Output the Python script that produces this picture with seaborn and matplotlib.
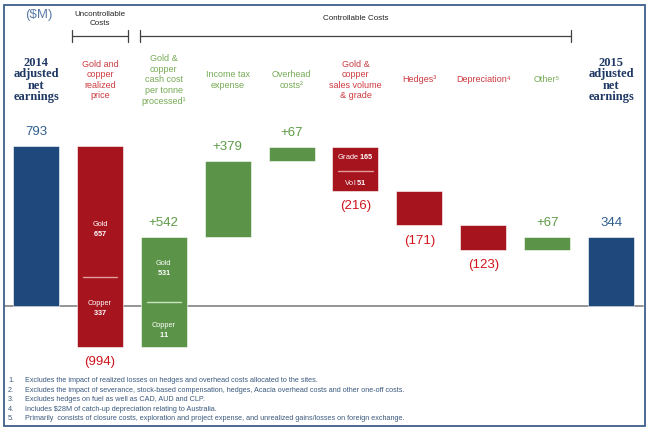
import numpy as np
import pandas as pd
import seaborn as sns
import matplotlib.pyplot as plt
from matplotlib.patches import Rectangle

# Daten (in $M)
steps = ['2014', 'price', 'cash_cost', 'tax', 'overhead', 'volume',
         'hedges', 'depreciation', 'other', '2015']
header_labels = ['2014\nadjusted\nnet\nearnings',
                 'Gold and\ncopper\nrealized\nprice',
                 'Gold &\ncopper\ncash cost\nper tonne\nprocessed¹',
                 'Income tax\nexpense',
                 'Overhead\ncosts²',
                 'Gold &\ncopper\nsales volume\n& grade',
                 'Hedges³',
                 'Depreciation⁴',
                 'Other⁵',
                 '2015\nadjusted\nnet\nearnings']
values = [793, -994, 542, 379, 67, -216, -171, -123, 67, 344]
is_total = [True, False, False, False, False, False, False, False, False, True]
value_labels = ['793', '(994)', '+542', '+379', '+67', '(216)', '(171)',
                '(123)', '+67', '344']

# Aufteilung innerhalb einzelner Balken: (oben, Wert, unten, Wert)
split_labels = {1: ('Gold', '657', 'Copper', '337'),
                2: ('Gold', '531', 'Copper', '11'),
                5: ('Grade', '165', 'Vol', '51')}

footnotes = [
    'Excludes the impact of realized losses on hedges and overhead costs allocated to the sites.',
    'Excludes the impact of severance, stock-based compensation, hedges, Acacia overhead costs and other one-off costs.',
    'Excludes hedges on fuel as well as CAD, AUD and CLP.',
    'Includes $28M of catch-up depreciation relating to Australia.',
    'Primarily  consists of closure costs, exploration and project expense, and unrealized gains/losses on foreign exchange.',
]

# Farben
BLUE = '#1F497D'
RED = '#A6141E'
GREEN = '#5B9448'
BLUE_TXT = '#2F5E8E'
RED_TXT = '#D0141C'
GREEN_TXT = '#5D9A45'
RED_HDR = '#CC3A40'
GREEN_HDR = '#76AA55'

# Wasserfall: Basis und Höhe berechnen
bottoms, heights, running = [], [], 0
for v, tot in zip(values, is_total):
    if tot:
        lo, hi = 0, v
        running = v
    else:
        lo, hi = sorted([running, running + v])
        running += v
    bottoms.append(lo)
    heights.append(hi - lo)

bar_colors = [BLUE if t else (GREEN if v > 0 else RED) for v, t in zip(values, is_total)]
txt_colors = [BLUE_TXT if t else (GREEN_TXT if v > 0 else RED_TXT) for v, t in zip(values, is_total)]

df = pd.DataFrame({'step': steps, 'height': heights, 'bottom': bottoms})

sns.set_style('white')
plt.rcParams['font.family'] = ['Liberation Sans', 'DejaVu Sans']
plt.rcParams['mathtext.fontset'] = 'custom'
plt.rcParams['mathtext.rm'] = 'Liberation Sans'
plt.rcParams['mathtext.bf'] = 'Liberation Sans:bold'

fig = plt.figure(figsize=(6.5, 4.34), dpi=100)
ax = fig.add_axes([0, 0, 1, 1])

sns.barplot(data=df, x='step', y='height', hue='step', palette=bar_colors,
            width=0.72, saturation=1, legend=False, ax=ax,
            edgecolor='#FFFFFF', linewidth=0.4)
for patch, b in zip(ax.patches, bottoms):
    patch.set_y(b)

ax.set_xlim(-0.5634, 9.609)
ax.set_ylim(-634.3, 1516.4)
ax.axis('off')

# Nulllinie
ax.plot([-0.48, 9.5], [0, 0], color='#8C8C8C', lw=1.3, zorder=0)

# Wertbeschriftungen
for i, (b, h, v, lab, c) in enumerate(zip(bottoms, heights, values, value_labels, txt_colors)):
    if v >= 0:
        ax.annotate(lab, (i, b + h), xytext=(0, 10), textcoords='offset points',
                    ha='center', va='center', fontsize=9.5, color=c)
    else:
        ax.annotate(lab, (i, b), xytext=(0, -11), textcoords='offset points',
                    ha='center', va='center', fontsize=9.5, color=c)

# Aufteilung innerhalb der Balken (Anteile von unten)
split_layout = {1: (0.584, 0.347, 0.19), 2: (0.714, 0.41, 0.147), 5: (0.775, 0.454, 0.18)}
for i, (n1, v1, n2, v2) in split_labels.items():
    f_top, f_div, f_bot = split_layout[i]
    b, h = bottoms[i], heights[i]
    line_c = '#E39B9B' if values[i] < 0 else '#CBE2BF'
    ax.plot([i - 0.27, i + 0.27], [b + f_div * h] * 2, color=line_c, lw=1)
    if i == 5:
        t1 = n1 + r' $\mathbf{' + v1 + '}$'
        t2 = n2 + r' $\mathbf{' + v2 + '}$'
    else:
        t1 = n1 + '\n' + r'$\mathbf{' + v1 + '}$'
        t2 = n2 + '\n' + r'$\mathbf{' + v2 + '}$'
    for t, f in ((t1, f_top), (t2, f_bot)):
        ax.text(i, b + f * h, t, ha='center', va='center', fontsize=5.3,
                color='white', linespacing=1.1)

# Kopfzeilen
xt = ax.get_xaxis_transform()
hdr_y = 1 - 80 / 434
for i, (lab, v, tot) in enumerate(zip(header_labels, values, is_total)):
    if tot:
        ax.text(i, hdr_y, lab, transform=xt, ha='center', va='center',
                fontsize=9, fontweight='bold', color='#1F3864',
                family=['Liberation Serif', 'DejaVu Serif'], linespacing=0.95)
    else:
        ax.text(i, hdr_y, lab, transform=xt, ha='center', va='center',
                fontsize=6.5, color=GREEN_HDR if v > 0 else RED_HDR,
                linespacing=1.22)

fig.text(39 / 650, 1 - 15 / 434, r'(\$M)', ha='center', va='center',
         fontsize=9.5, color='#5A7BA8')

# Klammern
br_y = 1 - 36 / 434
tick = 6 / 434
for (x0, x1), lab in (((1 - 0.44, 1 + 0.44), 'Uncontrollable\nCosts'),
                      ((2 - 0.38, 8 + 0.38), 'Controllable Costs')):
    ax.plot([x0, x1], [br_y, br_y], transform=xt, color='#404040', lw=0.9, clip_on=False)
    for xx in (x0, x1):
        ax.plot([xx, xx], [br_y - tick, br_y + tick], transform=xt, color='#404040',
                lw=0.9, clip_on=False)
    ax.text((x0 + x1) / 2, 1 - 19 / 434, lab, transform=xt, ha='center', va='center',
            fontsize=5.8, color='#222222', linespacing=1.55)

# Fußnoten
for k, note in enumerate(footnotes):
    y = 1 - (380.7 + 9.55 * k) / 434
    fig.text(8 / 650, y, f'{k + 1}.', ha='left', va='center', fontsize=5.2,
             color='#3B5A7E')
    fig.text(25 / 650, y, note.replace('$', r'\$'), ha='left', va='center',
             fontsize=5.2, color='#3B5A7E')

# Rahmen
fig.patches.append(Rectangle((4 / 650, 1 - 426 / 434), 641 / 650, 421 / 434,
                             transform=fig.transFigure, fill=False,
                             edgecolor='#3E5F8A', lw=1.3))

fig.savefig('out.png', dpi=100)
